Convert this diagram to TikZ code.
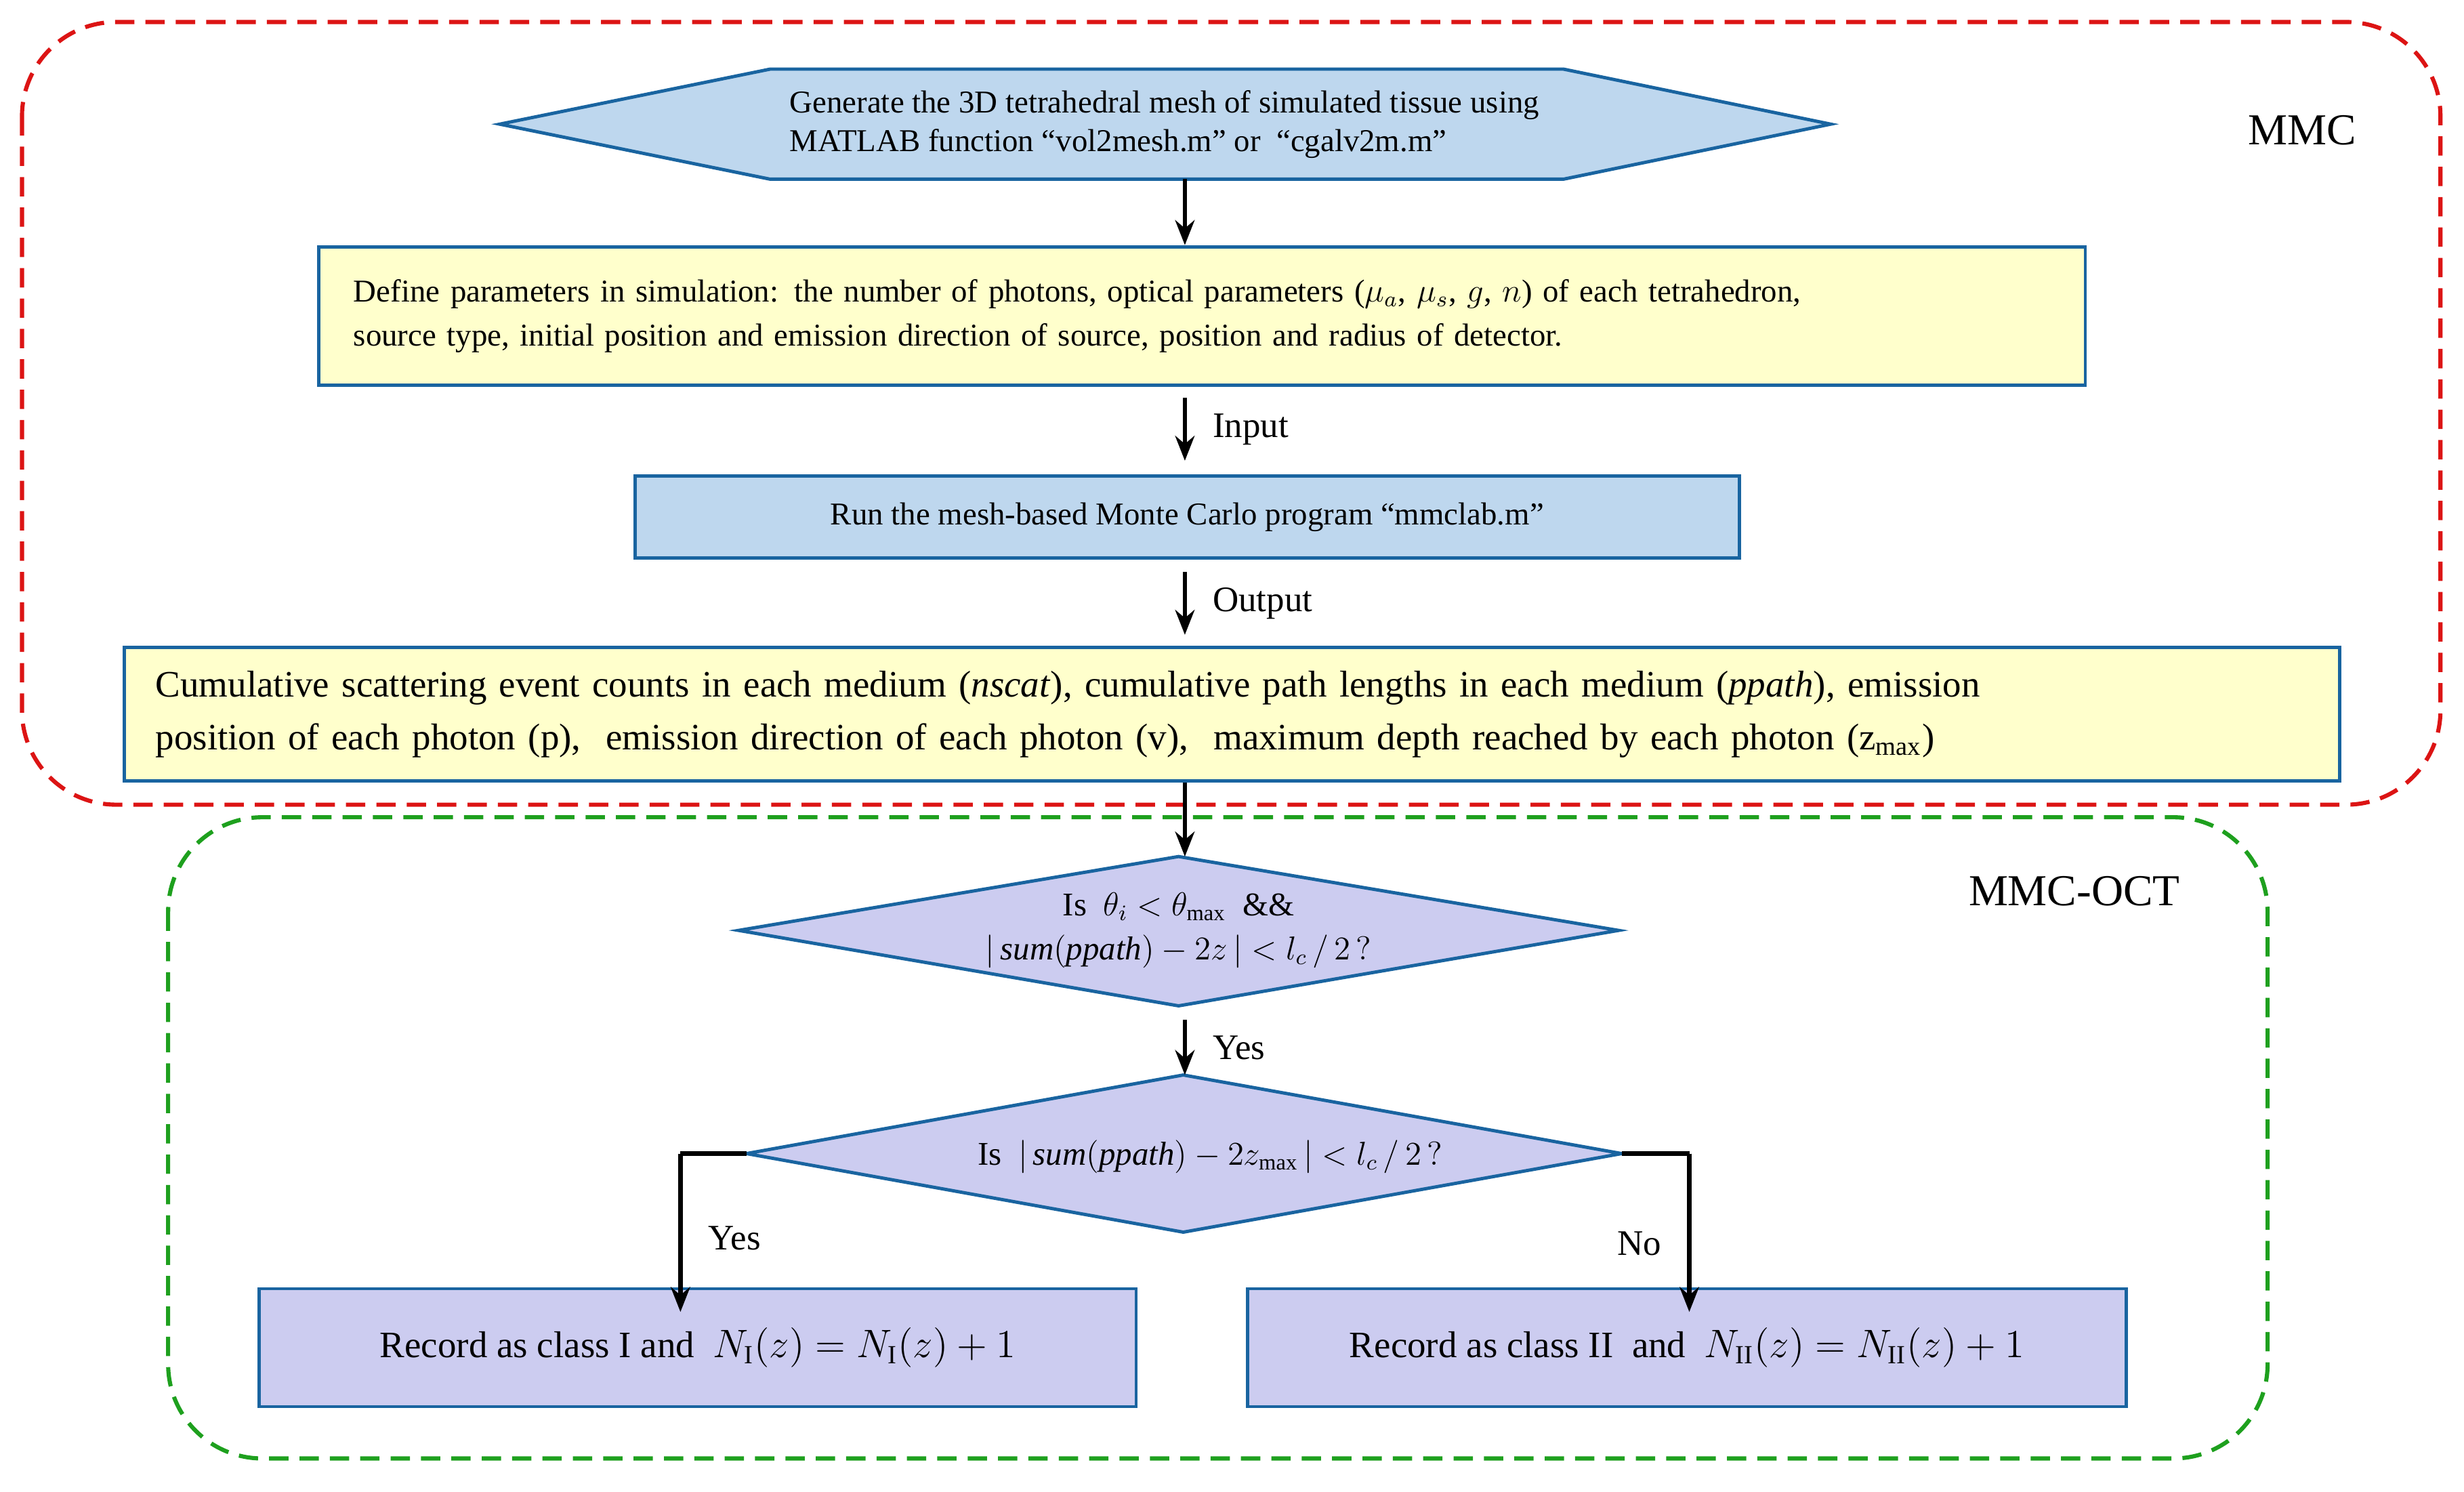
\documentclass[tikz,border=0pt]{standalone}
\usepackage{fontspec}
\setmainfont{Liberation Serif}
\usetikzlibrary{arrows.meta}
\definecolor{lblue}{RGB}{190,215,238}
\definecolor{lyel}{RGB}{255,255,204}
\definecolor{lav}{RGB}{204,204,240}
\definecolor{bord}{RGB}{25,100,160}
\definecolor{rd}{RGB}{220,20,20}
\definecolor{gr}{RGB}{30,160,30}
\begin{document}
\begin{tikzpicture}[x=0.02cm,y=-0.02cm,
  shp/.style={draw=bord,line width=1.2pt},
  box/.style={shp,inner sep=0pt,minimum width=#1*0.02cm},
  arr/.style={-{Stealth[length=9pt,width=7pt]},line width=1.6pt},
  lbl/.style={font=\fontsize{13}{15}\selectfont,anchor=west},
  frame/.style={dashed,line width=1.5pt,dash pattern=on 7pt off 4pt,rounded corners=1.2cm}]
\useasboundingbox (0,0) rectangle (1568,949);
\draw[frame,rd] (14,14) rectangle (1553,512);
\draw[frame,gr] (107,520) rectangle (1443,928);
\node[font=\fontsize{16}{18}\selectfont] at (1465,83) {MMC};
\node[font=\fontsize{16}{18}\selectfont] at (1320,567) {MMC-OCT};
% hexagon
\draw[shp,fill=lblue] (318,79)--(490,44)--(995,44)--(1165,79)--(995,114)--(490,114)--cycle;
\node[align=left,font=\fontsize{11.5}{14}\selectfont] (hex) at (741,79) {Generate the 3D tetrahedral mesh of simulated tissue using\\MATLAB function “vol2mesh.m” or \ “cgalv2m.m”};
\coordinate (hexb) at (754,114);
% box 2
\node[box=1124,fill=lyel,minimum height=88*0.02cm,align=left,font=\fontsize{11.5}{16}\selectfont,text width=1080*0.02cm] (b2) at (765,201) {Define parameters in simulation: the number of photons, optical parameters ($\mu_a$, $\mu_s$, $g$, $n$) of each tetrahedron,\\source type, initial position and emission direction of source, position and radius of detector.};
\node[box=703,fill=lblue,minimum height=52*0.02cm,font=\fontsize{11.5}{14}\selectfont] (b3) at (755.5,329) {Run the mesh-based Monte Carlo program “mmclab.m”};
\node[box=1410,fill=lyel,minimum height=85*0.02cm,align=left,font=\fontsize{13.5}{19}\selectfont,text width=1370*0.02cm] (b4) at (784,454.5) {Cumulative scattering event counts in each medium (\textit{nscat}), cumulative path lengths in each medium (\textit{ppath}), emission\\position of each photon (p), \ emission direction of each photon (v), \ maximum depth reached by each photon (z\textsubscript{max})};
\draw[arr] (hexb) -- (b2.north -| hexb);
\draw[arr] (b2.south -| hexb) ++(0,7) -- ([yshift=5pt]b3.north -| hexb) node[lbl,midway,xshift=6pt] {Input};
\draw[arr] (b3.south -| hexb) ++(0,8) -- ([yshift=4pt]b4.north -| hexb) node[lbl,midway,xshift=6pt] {Output};
% diamond 1
\draw[shp,fill=lav] (470,592)--(750,545)--(1030,592)--(750,640)--cycle;
\node[align=center,font=\fontsize{12}{16}\selectfont] (d1) at (750,592) {Is \ $\theta_i<\theta_{\max}$ \ \&\&\\$|\,\mathit{sum}(\mathit{ppath})-2z\,|<l_c\,/\,2\,?$};
\coordinate (d1t) at (754,545); \coordinate (d1b) at (754,642);
\draw[arr] (b4.south -| hexb) -- (d1t);
% diamond 2
\draw[shp,fill=lav] (475,734)--(753,684)--(1032,734)--(753,784)--cycle;
\node[font=\fontsize{12}{14}\selectfont] (d2) at (770,736) {Is \ $|\,\mathit{sum}(\mathit{ppath})-2z_{\max}\,|<l_c\,/\,2\,?$};
\coordinate (d2t) at (754,684); \coordinate (d2l) at (475,734); \coordinate (d2r) at (1032,734);
\draw[arr] ([yshift=-4pt]d1b) -- (d2t) node[lbl,midway,xshift=6pt] {Yes};
\node[box=558,fill=lav,minimum height=75*0.02cm,font=\fontsize{13.5}{16}\selectfont] (c1) at (444,857.5) {Record as class I and \ $N_{\mathrm{I}}(z)=N_{\mathrm{I}}(z)+1$};
\node[box=559,fill=lav,minimum height=75*0.02cm,font=\fontsize{13.5}{16}\selectfont] (c2) at (1073.5,857.5) {Record as class II \ and \ $N_{\mathrm{II}}(z)=N_{\mathrm{II}}(z)+1$};
\coordinate (lc) at (433,734); \coordinate (rc) at (1075,734);
\draw[line width=1.6pt] (d2l) -- (lc);
\draw[arr] (lc) -- ([yshift=-9pt]c1.north -| lc) node[lbl,midway,xshift=6pt,yshift=-2pt] {Yes};
\draw[line width=1.6pt] (d2r) -- (rc);
\draw[arr] (rc) -- ([yshift=-9pt]c2.north -| rc) node[lbl,midway,anchor=east,xshift=-6pt,yshift=-4pt] {No};
\end{tikzpicture}
\end{document}
